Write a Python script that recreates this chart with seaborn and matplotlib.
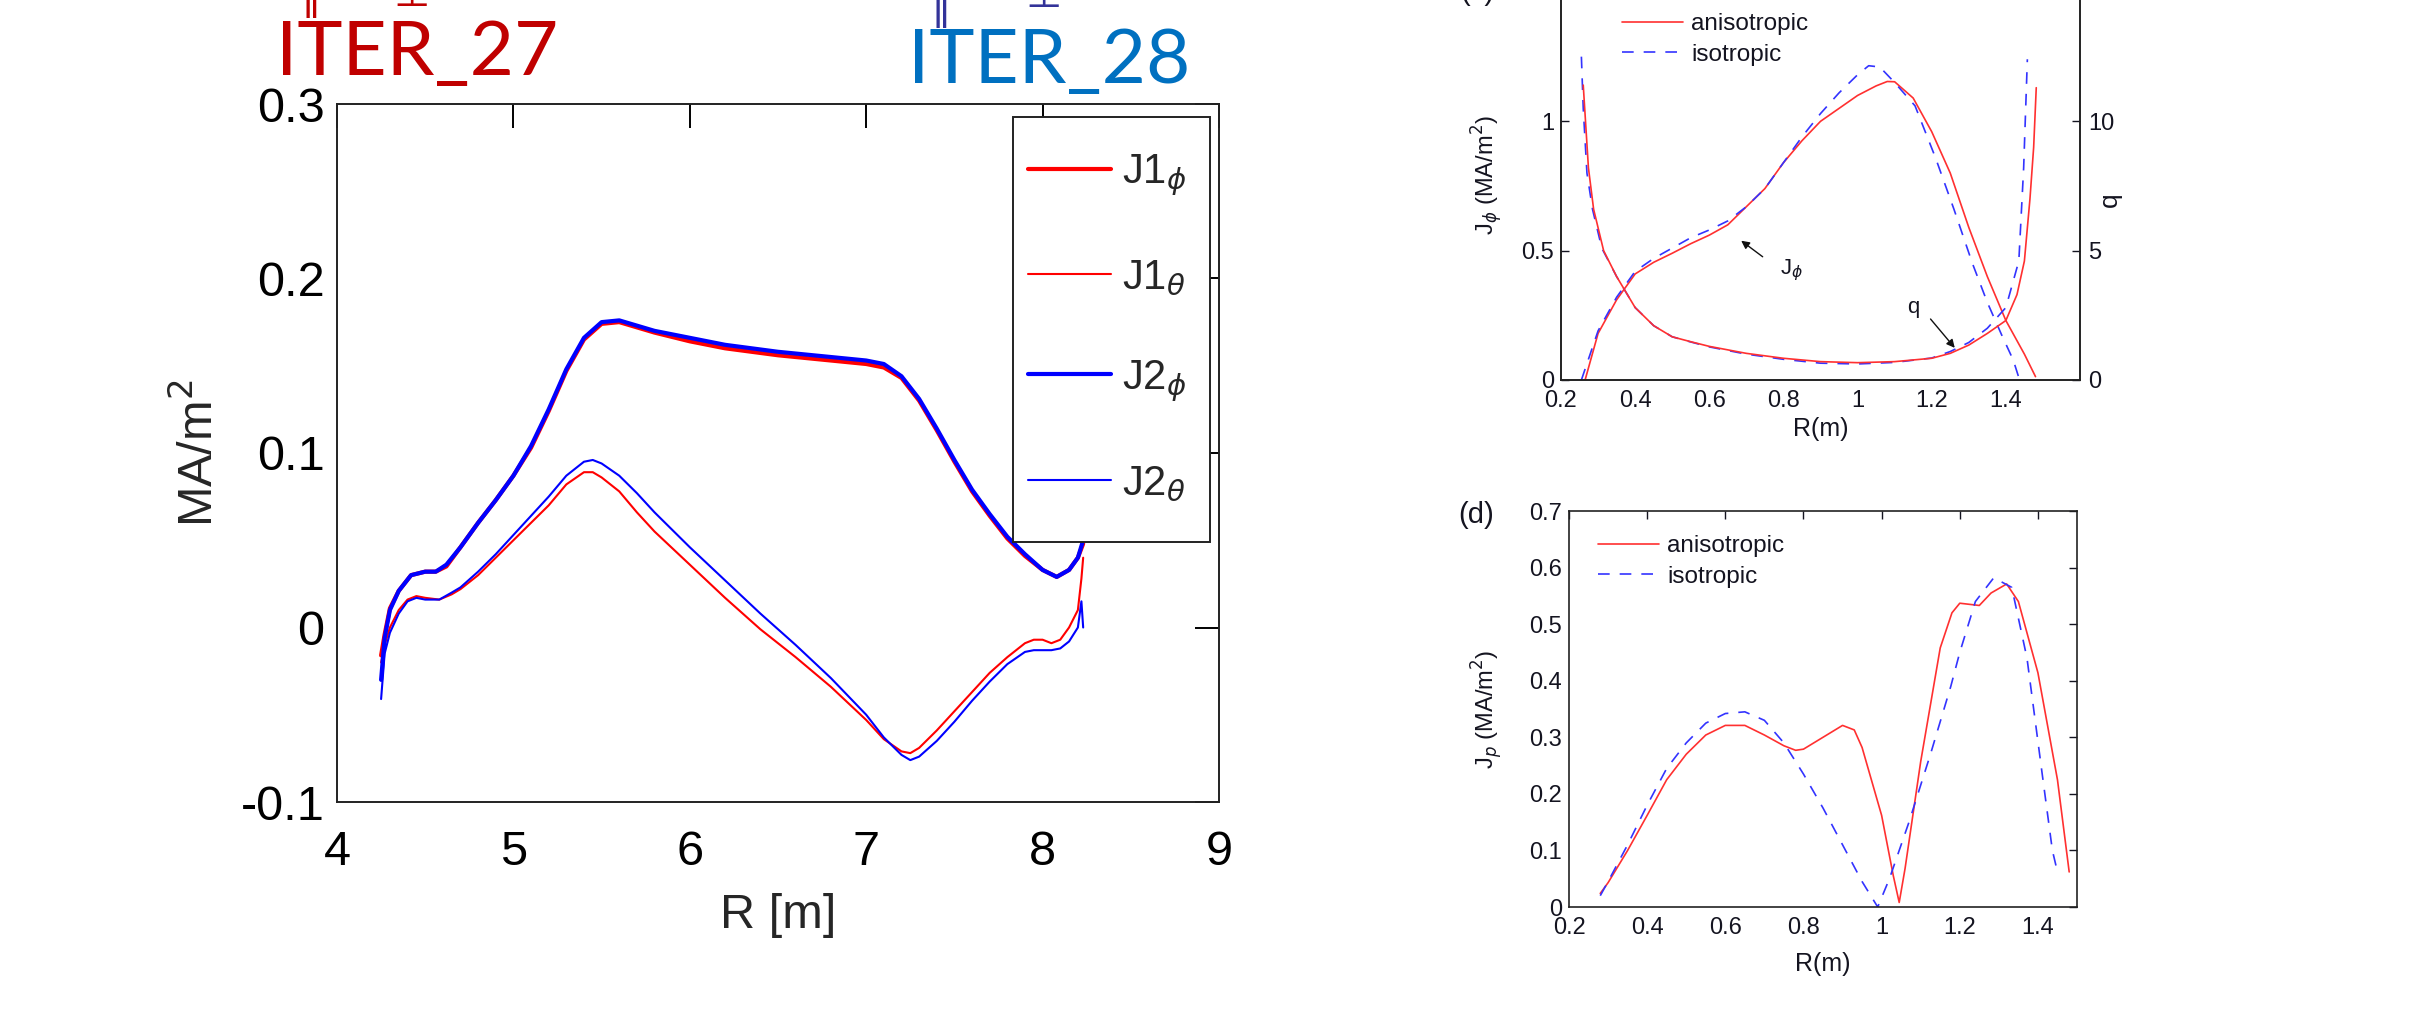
import matplotlib
matplotlib.use("Agg")
import matplotlib.pyplot as plt
import seaborn as sns
import pandas as pd
from matplotlib import font_manager as fm
from matplotlib.patches import Rectangle

# ---------------- data: left panel (ITER) ----------------
R_phi = [4.25, 4.27, 4.30, 4.35, 4.42, 4.50, 4.56, 4.62, 4.70, 4.80, 4.90, 5.00, 5.10, 5.20,
         5.30, 5.40, 5.50, 5.60, 5.70, 5.80, 6.00, 6.20, 6.50, 6.80, 7.00, 7.10, 7.20, 7.30,
         7.40, 7.50, 7.60, 7.70, 7.80, 7.90, 8.00, 8.08, 8.15, 8.20, 8.23]
J1_phi = [-0.016, -0.004, 0.011, 0.021, 0.030, 0.032, 0.032, 0.035, 0.046, 0.060, 0.073, 0.087,
          0.103, 0.124, 0.147, 0.165, 0.174, 0.175, 0.172, 0.169, 0.164, 0.160, 0.156, 0.153,
          0.151, 0.149, 0.143, 0.130, 0.113, 0.095, 0.078, 0.064, 0.051, 0.041, 0.033, 0.029,
          0.033, 0.040, 0.048]
J2_phi = [-0.030, -0.006, 0.010, 0.021, 0.030, 0.032, 0.032, 0.036, 0.046, 0.060, 0.073, 0.087,
          0.104, 0.125, 0.148, 0.166, 0.175, 0.176, 0.173, 0.170, 0.166, 0.162, 0.158, 0.155,
          0.153, 0.151, 0.144, 0.131, 0.114, 0.096, 0.079, 0.065, 0.052, 0.042, 0.033, 0.029,
          0.033, 0.040, 0.050]
R_theta = [4.25, 4.27, 4.30, 4.35, 4.40, 4.45, 4.50, 4.58, 4.65, 4.70, 4.80, 4.90, 5.00, 5.10,
           5.20, 5.30, 5.40, 5.45, 5.50, 5.60, 5.70, 5.80, 6.00, 6.20, 6.40, 6.60, 6.80, 7.00,
           7.10, 7.20, 7.25, 7.30, 7.40, 7.50, 7.60, 7.70, 7.80, 7.90, 7.95, 8.00, 8.05, 8.10,
           8.15, 8.20, 8.22, 8.23]
J1_theta = [-0.020, -0.010, 0.000, 0.010, 0.016, 0.018, 0.017, 0.016, 0.019, 0.022, 0.030, 0.040,
            0.050, 0.060, 0.070, 0.082, 0.089, 0.089, 0.086, 0.078, 0.066, 0.055, 0.036, 0.017,
            -0.001, -0.017, -0.034, -0.053, -0.064, -0.071, -0.072, -0.069, -0.059, -0.048,
            -0.037, -0.026, -0.017, -0.009, -0.007, -0.007, -0.009, -0.007, 0.000, 0.010, 0.028,
            0.040]
J2_theta = [-0.041, -0.015, -0.003, 0.008, 0.015, 0.017, 0.016, 0.016, 0.020, 0.023, 0.032, 0.042,
            0.053, 0.064, 0.075, 0.087, 0.095, 0.096, 0.094, 0.087, 0.077, 0.066, 0.046, 0.027,
            0.008, -0.010, -0.029, -0.050, -0.063, -0.073, -0.076, -0.074, -0.065, -0.054,
            -0.042, -0.031, -0.021, -0.014, -0.013, -0.013, -0.013, -0.012, -0.008, 0.000, 0.015,
            0.000]
left_xticks = [4, 5, 6, 7, 8, 9]
left_yticks = [-0.1, 0.0, 0.1, 0.2, 0.3]
left_yticklabels = ["-0.1", "0", "0.1", "0.2", "0.3"]
left_labels = ["J1$_{\\phi}$", "J1$_{\\theta}$", "J2$_{\\phi}$", "J2$_{\\theta}$"]

# ---------------- data: panel (c) ----------------
Rc_aniso = [0.265, 0.30, 0.35, 0.40, 0.45, 0.50, 0.55, 0.60, 0.65, 0.70, 0.75, 0.80, 0.85, 0.90,
            0.95, 1.00, 1.05, 1.08, 1.10, 1.15, 1.20, 1.25, 1.30, 1.35, 1.40, 1.45, 1.48]
Jc_aniso = [0.0, 0.18, 0.31, 0.41, 0.455, 0.49, 0.527, 0.56, 0.60, 0.67, 0.74, 0.84, 0.925, 1.0,
            1.05, 1.10, 1.137, 1.154, 1.153, 1.09, 0.96, 0.80, 0.59, 0.40, 0.23, 0.10, 0.013]
Rc_iso = [0.255, 0.30, 0.35, 0.40, 0.45, 0.50, 0.55, 0.60, 0.65, 0.70, 0.75, 0.80, 0.85, 0.90,
          0.95, 1.00, 1.03, 1.06, 1.10, 1.155, 1.21, 1.26, 1.31, 1.35, 1.39, 1.42, 1.437]
Jc_iso = [0.0, 0.19, 0.32, 0.42, 0.47, 0.51, 0.55, 0.58, 0.615, 0.67, 0.74, 0.84, 0.94, 1.03,
          1.11, 1.18, 1.215, 1.21, 1.15, 1.06, 0.86, 0.66, 0.45, 0.30, 0.17, 0.077, 0.0]
Rq_aniso = [0.26, 0.274, 0.288, 0.315, 0.35, 0.40, 0.45, 0.50, 0.55, 0.60, 0.70, 0.80, 0.90,
            1.00, 1.10, 1.20, 1.25, 1.30, 1.35, 1.40, 1.43, 1.45, 1.465, 1.475, 1.482]
q_aniso = [11.4, 8.2, 6.6, 5.0, 4.0, 2.8, 2.1, 1.67, 1.48, 1.3, 1.03, 0.84, 0.71, 0.67, 0.71,
           0.84, 1.03, 1.35, 1.8, 2.3, 3.3, 4.6, 7.0, 9.0, 11.3]
Rq_iso = [0.255, 0.26, 0.27, 0.285, 0.31, 0.35, 0.40, 0.45, 0.50, 0.55, 0.60, 0.70, 0.80, 0.90,
          1.00, 1.10, 1.20, 1.25, 1.30, 1.35, 1.40, 1.435, 1.448, 1.458]
q_iso = [12.5, 10.5, 8.0, 6.6, 5.1, 4.0, 2.8, 2.1, 1.67, 1.47, 1.28, 1.0, 0.8, 0.65, 0.62, 0.68,
         0.85, 1.1, 1.45, 2.0, 2.8, 4.6, 8.2, 12.4]

# ---------------- data: panel (d) ----------------
Rd_aniso = [0.28, 0.30, 0.35, 0.40, 0.45, 0.50, 0.55, 0.60, 0.65, 0.70, 0.75, 0.78, 0.80, 0.85,
            0.90, 0.93, 0.95, 1.00, 1.03, 1.045, 1.06, 1.10, 1.15, 1.18, 1.20, 1.25, 1.28, 1.32,
            1.35, 1.40, 1.45, 1.48]
Jp_aniso = [0.024, 0.043, 0.10, 0.162, 0.225, 0.27, 0.304, 0.321, 0.321, 0.304, 0.285, 0.277,
            0.279, 0.30, 0.321, 0.313, 0.282, 0.162, 0.055, 0.008, 0.068, 0.257, 0.458, 0.52,
            0.537, 0.533, 0.555, 0.571, 0.54, 0.414, 0.225, 0.062]
Rd_iso = [0.28, 0.30, 0.35, 0.40, 0.45, 0.50, 0.55, 0.60, 0.65, 0.70, 0.75, 0.80, 0.85, 0.90,
          0.95, 0.99, 1.02, 1.07, 1.125, 1.177, 1.20, 1.24, 1.287, 1.333, 1.372, 1.41, 1.437, 1.45]
Jp_iso = [0.02, 0.045, 0.11, 0.18, 0.245, 0.29, 0.325, 0.342, 0.345, 0.33, 0.29, 0.235, 0.175,
          0.11, 0.045, 0.0, 0.05, 0.15, 0.27, 0.39, 0.45, 0.54, 0.582, 0.565, 0.44, 0.24, 0.10,
          0.062]
r_xticks = [0.2, 0.4, 0.6, 0.8, 1.0, 1.2, 1.4]
r_xticklabels = ["0.2", "0.4", "0.6", "0.8", "1", "1.2", "1.4"]
c_yticks = [0, 0.5, 1.0, 1.5]
c_yticklabels = ["0", "0.5", "1", "1.5"]
q_ticks = [0, 5, 10, 15]
d_yticks = [0, 0.1, 0.2, 0.3, 0.4, 0.5, 0.6, 0.7]
d_yticklabels = ["0", "0.1", "0.2", "0.3", "0.4", "0.5", "0.6", "0.7"]

# ---------------- style ----------------
sns.set_style("white")
names = {f.name for f in fm.fontManager.ttflist}
narrow = "Liberation Sans Narrow" in names
left_font = "Liberation Sans Narrow" if narrow else "Liberation Sans"
plt.rcParams["font.family"] = ["Liberation Sans", "DejaVu Sans"]
plt.rcParams["mathtext.fontset"] = "dejavusans"

W, H = 2420, 1017
fig = plt.figure(figsize=(W / 100, H / 100), dpi=100)
fig.patch.set_facecolor("white")


def rect(x0, y0, x1, y1):
    return [x0 / W, 1 - y1 / H, (x1 - x0) / W, (y1 - y0) / H]


def px(x, y):
    return x / W, 1 - y / H


# ---------------- left panel ----------------
axL = fig.add_axes(rect(337, 104, 1219, 802))
dfp = pd.DataFrame({"R": R_phi, "J1": J1_phi, "J2": J2_phi})
dft = pd.DataFrame({"R": R_theta, "J1": J1_theta, "J2": J2_theta})
sns.lineplot(data=dft, x="R", y="J1", ax=axL, color="#ff0000", lw=1.5, sort=False,
             estimator=None, label=left_labels[1])
sns.lineplot(data=dft, x="R", y="J2", ax=axL, color="#0000ff", lw=1.5, sort=False,
             estimator=None, label=left_labels[3])
sns.lineplot(data=dfp, x="R", y="J1", ax=axL, color="#ff0000", lw=3.0, sort=False,
             estimator=None, label=left_labels[0])
sns.lineplot(data=dfp, x="R", y="J2", ax=axL, color="#0000ff", lw=3.0, sort=False,
             estimator=None, label=left_labels[2])
axL.set_xlim(4, 9)
axL.set_ylim(-0.1, 0.3)
axL.set_xticks(left_xticks)
axL.set_xticklabels([str(t) for t in left_xticks])
axL.set_yticks(left_yticks)
axL.set_yticklabels(left_yticklabels)
lsize = 37 if narrow else 35
axL.tick_params(direction="in", length=17, width=1.4, top=True, right=True, colors="black")
axL.tick_params(axis="x", pad=20)
axL.tick_params(axis="y", pad=9)
for lab in axL.get_xticklabels() + axL.get_yticklabels():
    lab.set_fontfamily(left_font)
    lab.set_fontsize(lsize)
for s in axL.spines.values():
    s.set_linewidth(1.4)
    s.set_color("#222222")
axL.set_xlabel("R [m]", fontsize=lsize, family=left_font)
axL.set_ylabel("MA/m$^2$", fontsize=lsize, family=left_font)
axL.xaxis.set_label_coords(0.5, -(916 - 802) / 698)
axL.xaxis.label.set_va("center")
axL.yaxis.set_label_coords((199 - 337) / 882, 0.5)
axL.yaxis.label.set_va("center")

# legend frame at its place in the reference, entries placed inside it
lx0, lx1 = (1013 - 337) / 882, (1210 - 337) / 882
ly0, ly1 = (802 - 542) / 698, (802 - 117) / 698
axL.add_patch(Rectangle((lx0, ly0), lx1 - lx0, ly1 - ly0, transform=axL.transAxes,
                        facecolor="white", edgecolor="#222222", lw=1.4, zorder=8,
                        clip_on=False))
hd = {h.get_label(): h for h in axL.get_lines()}
leg = axL.legend([hd[l] for l in left_labels], left_labels, loc="center left",
                 bbox_to_anchor=((1028 - 337) / 882, (802 - 328) / 698), borderaxespad=0,
                 fontsize=30, handlelength=2.0, handletextpad=0.25, labelspacing=1.44,
                 borderpad=0, frameon=False)
leg.set_zorder(10)

fig.text(*px(276, 75), "ITER_27", fontsize=55, family=["Lato", "DejaVu Sans"],
         color="#C00000", ha="left", va="baseline")
fig.text(*px(908, 83), "ITER_28", fontsize=55, family=["Lato", "DejaVu Sans"],
         color="#0070C0", ha="left", va="baseline")
fig.text(*px(300, 18), "\u2225", fontsize=30, family="DejaVu Sans", color="#C00000",
         ha="left", va="bottom")
fig.text(*px(393, 15), "\u22a5", fontsize=30, family="DejaVu Sans", color="#C00000",
         ha="left", va="bottom")
fig.text(*px(930, 28), "\u2225", fontsize=30, family="DejaVu Sans", color="#333399",
         ha="left", va="bottom")
fig.text(*px(1025, 16), "\u22a5", fontsize=30, family="DejaVu Sans", color="#333399",
         ha="left", va="bottom")

# ---------------- panel (c) ----------------
txtc = "#141420"
rsize = 17
axC = fig.add_axes(rect(1561, -8, 2080, 380))
axQ = axC.twinx()
dash = (0, (7, 6))
sns.lineplot(x=Rq_iso, y=q_iso, ax=axQ, color="#3333ff", lw=1.2, linestyle=dash, sort=False,
             estimator=None, legend=False)
sns.lineplot(x=Rq_aniso, y=q_aniso, ax=axQ, color="#ff3030", lw=1.2, sort=False,
             estimator=None, legend=False)
sns.lineplot(x=Rc_aniso, y=Jc_aniso, ax=axC, color="#ff3030", lw=1.2, sort=False,
             estimator=None, label="anisotropic")
sns.lineplot(x=Rc_iso, y=Jc_iso, ax=axC, color="#3333ff", lw=1.2, linestyle=dash, sort=False,
             estimator=None, label="isotropic")
axC.set_xlim(0.2, 1.6)
axC.set_ylim(0, 1.5)
axQ.set_ylim(0, 15)
axC.set_xticks(r_xticks)
axC.set_xticklabels(r_xticklabels)
axC.set_yticks(c_yticks)
axC.set_yticklabels(c_yticklabels)
axQ.set_yticks(q_ticks)
axQ.set_yticklabels([str(t) for t in q_ticks])
axC.tick_params(direction="in", length=6, width=1, labelsize=rsize, colors=txtc,
                top=False, right=False)
axC.tick_params(axis="x", pad=7.5)
axC.tick_params(axis="y", pad=5)
axQ.tick_params(direction="in", length=6, width=1, labelsize=rsize, colors=txtc, pad=6)
for a in (axC, axQ):
    for s in a.spines.values():
        s.set_linewidth(1.2)
        s.set_color("#222222")
axC.set_xlabel("R(m)", fontsize=18, color=txtc)
axC.xaxis.set_label_coords(0.5, -(429 - 380) / 388)
axC.xaxis.label.set_va("center")
axC.set_ylabel("J$_{\\phi}$ (MA/m$^2$)", fontsize=17, color=txtc)
axC.yaxis.set_label_coords((1487 - 1561) / 519, (380 - 175) / 388)
axC.yaxis.label.set_va("center")
axQ.set_ylabel("q", fontsize=19, color=txtc, rotation=90)
axQ.yaxis.set_label_coords((2110 - 1561) / 519, (380 - 200) / 388)
axQ.yaxis.label.set_va("center")
legc = axC.legend(loc="upper left", bbox_to_anchor=((1622 - 1561) / 519, (380 - 13) / 388),
                  borderaxespad=0, borderpad=0, frameon=False, fontsize=17.5,
                  handlelength=2.5, handletextpad=0.35, labelspacing=0.35)
for t in legc.get_texts():
    t.set_color(txtc)
axC.annotate("", xy=(0.68, 0.545), xytext=(0.75, 0.47),
             arrowprops=dict(arrowstyle="-|>", color="#111111", lw=1.0, mutation_scale=12))
axC.text(0.822, 0.425, "J$_{\\phi}$", fontsize=16, color=txtc, ha="center", va="center")
axC.annotate("", xy=(1.267, 0.116), xytext=(1.192, 0.244),
             arrowprops=dict(arrowstyle="-|>", color="#111111", lw=1.0, mutation_scale=12))
axC.text(1.151, 0.282, "q", fontsize=16, color=txtc, ha="center", va="center")
fig.text(*px(1477, -8), "(c)", fontsize=21, color=txtc, ha="center", va="center")

# ---------------- panel (d) ----------------
axD = fig.add_axes(rect(1569, 511, 2077, 907))
sns.lineplot(x=Rd_aniso, y=Jp_aniso, ax=axD, color="#ff3030", lw=1.2, sort=False,
             estimator=None, label="anisotropic")
sns.lineplot(x=Rd_iso, y=Jp_iso, ax=axD, color="#3333ff", lw=1.2, linestyle=dash, sort=False,
             estimator=None, label="isotropic")
axD.set_xlim(0.2, 1.5)
axD.set_ylim(0, 0.7)
axD.set_xticks(r_xticks)
axD.set_xticklabels(r_xticklabels)
axD.set_yticks(d_yticks)
axD.set_yticklabels(d_yticklabels)
axD.tick_params(direction="in", length=6, width=1, labelsize=rsize, colors=txtc,
                top=True, right=True)
axD.tick_params(axis="x", pad=7.5)
axD.tick_params(axis="y", pad=5)
for s in axD.spines.values():
    s.set_linewidth(1.2)
    s.set_color("#222222")
axD.set_xlabel("R(m)", fontsize=18, color=txtc)
axD.xaxis.set_label_coords(0.5, -(964 - 907) / 396)
axD.xaxis.label.set_va("center")
axD.set_ylabel("J$_{p}$ (MA/m$^2$)", fontsize=17, color=txtc)
axD.yaxis.set_label_coords((1487 - 1569) / 508, 0.5)
axD.yaxis.label.set_va("center")
legd = axD.legend(loc="upper left", bbox_to_anchor=((1598 - 1569) / 508, (907 - 535) / 396),
                  borderaxespad=0, borderpad=0, frameon=False, fontsize=17.5,
                  handlelength=2.5, handletextpad=0.35, labelspacing=0.35)
for t in legd.get_texts():
    t.set_color(txtc)
fig.text(*px(1476, 515), "(d)", fontsize=21, color=txtc, ha="center", va="center")

fig.savefig("out.png", dpi=100, facecolor="white")
